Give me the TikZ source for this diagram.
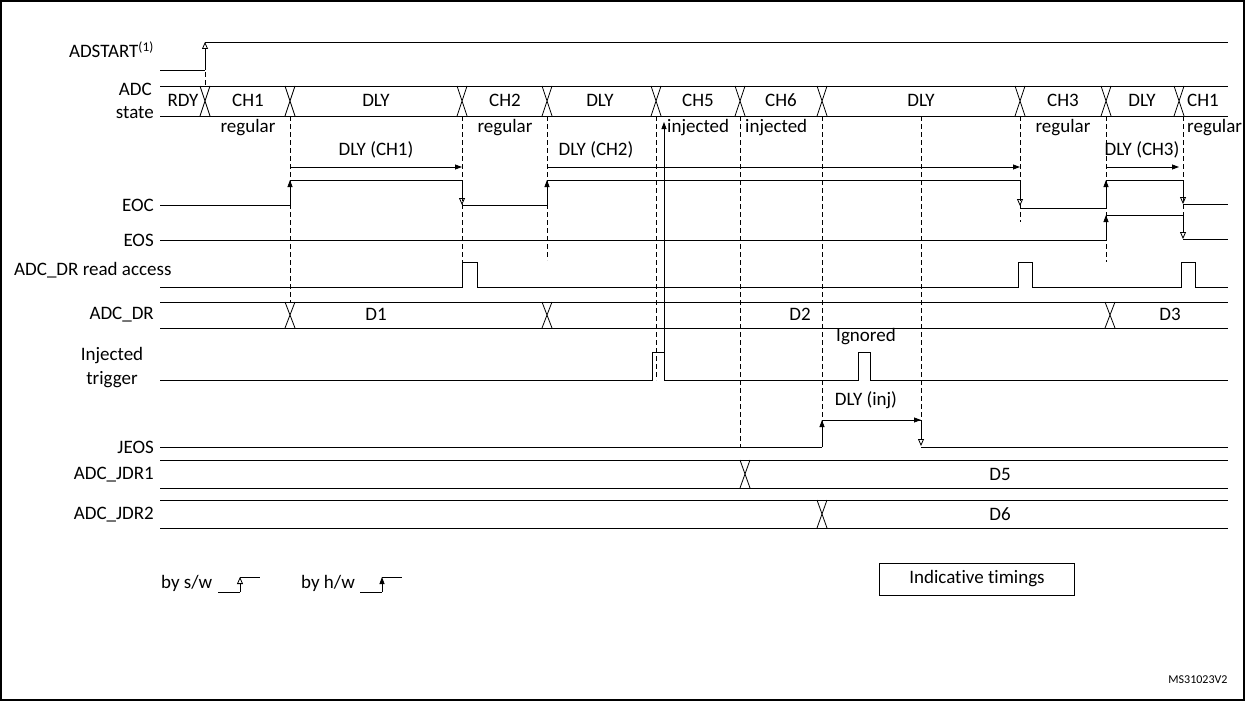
\documentclass[tikz,border=0pt]{standalone}
\usepackage{fontspec}
\setmainfont{Carlito}[Ligatures={NoCommon,NoRare,NoContextual}]
\usetikzlibrary{arrows.meta}
\tikzset{
  sig/.style={line width=0.8pt},
  guide/.style={dashed, line width=0.7pt, dash pattern=on 5pt off 3pt},
  swedge/.style={-{Triangle[open,length=7pt,width=6pt]}},
  hwedge/.style={-{Triangle[length=7pt,width=5pt]}},
  lbl/.style={anchor=east, font=\fontsize{19}{21}\selectfont, inner sep=1pt},
  txt/.style={font=\fontsize{19}{21}\selectfont, inner sep=1pt}
}
% bus: top, bottom, start, end, transitions
\newcommand{\drawbus}[5]{%
  \draw[sig] (#3,#1) -- (#4,#1) (#3,#2) -- (#4,#2);
  \foreach \t in {#5} {
    \fill[white] (\t-5,#1+0.5) rectangle (\t+5,#2-0.5);
    \draw[sig] (\t-5,#1) -- (\t+5,#2) (\t-5,#2) -- (\t+5,#1);
  }
}
\begin{document}
\begin{tikzpicture}[x=1pt,y=-1pt]
    \useasboundingbox (0,0) rectangle (1245,701);
    \draw[line width=1.2pt] (1,1) rectangle (1244,700);

    % Signal names
    \node[lbl] (nstart) at (155,50) {ADSTART\textsuperscript{(1)}};
    \node[lbl] (nadc) at (153,89) {ADC};
    \node[lbl] (nstate) at (155,113) {state};
    \node[lbl] (neoc) at (155,205) {EOC};
    \node[lbl] (neos) at (155,240) {EOS};
    \node[lbl, anchor=west] (nread) at (13,270) {ADC\_DR read access};
    \node[lbl] (ndr) at (155,315) {ADC\_DR};
    \node[txt] (ninj) at (112,356) {Injected};
    \node[txt] (ntrig) at (112,380) {trigger};
    \node[lbl] (njeos) at (155,447) {JEOS};
    \node[lbl] (njdr1) at (155,475) {ADC\_JDR1};
    \node[lbl] (njdr2) at (155,515) {ADC\_JDR2};

    % Dashed guides
    \foreach \x/\a/\b in {205/48/86, 290/116/302, 462/116/262, 547/116/260,
        656/116/380, 740/116/447, 822/116/447, 921/116/420,
        1020/116/222, 1106/116/262, 1183/116/232} {
        \draw[guide] (\x,\a) -- (\x,\b);
    }

    % ADSTART
    \draw[sig] (160,70) -- (205,70);
    \draw[sig, swedge] (205,70) -- (205,42);
    \draw[sig] (205,42) -- (1228,42);

    % ADC state
    \drawbus{86}{116}{160}{1228}{205,290,462,547,656,740,822,1020,1106,1179}
    \foreach \x/\s in {183/RDY, 248/CH1, 376/DLY, 505/CH2, 600/DLY, 698/CH5,
        781/CH6, 921/DLY, 1063/CH3, 1142/DLY, 1203/CH1} {
        \node[txt] at (\x,100) {\s};
    }
    \foreach \x/\s in {248/regular, 505/regular, 1063/regular} {
        \node[txt] at (\x,128) {\s};
    }
    \node[txt, anchor=west] at (666,128) {injected};
    \node[txt, anchor=west] at (744,128) {injected};
    \node[txt, anchor=west] at (1186,128) {regular};

    % Delay arrows
    \draw[sig, hwedge] (290,167) -- (462,167);
    \node[txt] at (376,150) {DLY (CH1)};
    \draw[sig, hwedge] (547,167) -- (1020,167);
    \node[txt] at (596,150) {DLY (CH2)};
    \draw[sig, hwedge] (1106,167) -- (1179,167);
    \node[txt] at (1142,150) {DLY (CH3)};
    \draw[sig, hwedge] (822,420) -- (921,420);
    \node[txt] at (866,400) {DLY (inj)};

    % EOC
    \draw[sig] (160,205) -- (290,205);
    \draw[sig, hwedge] (290,205) -- (290,180);
    \draw[sig] (290,180) -- (462,180);
    \draw[sig, swedge] (462,180) -- (462,205);
    \draw[sig] (462,205) -- (547,205);
    \draw[sig, hwedge] (547,205) -- (547,180);
    \draw[sig] (547,180) -- (1020,180);
    \draw[sig, swedge] (1020,180) -- (1020,206);
    \draw[sig] (1020,208) -- (1106,208);
    \draw[sig, hwedge] (1106,208) -- (1106,180);
    \draw[sig] (1106,180) -- (1183,180);
    \draw[sig, swedge] (1183,180) -- (1183,204);
    \draw[sig] (1183,204) -- (1228,204);

    % EOS
    \draw[sig] (160,240) -- (1106,240);
    \draw[sig, hwedge] (1106,240) -- (1106,215);
    \draw[sig] (1106,215) -- (1183,215);
    \draw[sig, swedge] (1183,215) -- (1183,239);
    \draw[sig] (1183,239) -- (1228,239);

    % ADC_DR read access
    \draw[sig] (160,287) -- (462,287) -- (462,262) -- (477,262) -- (477,287)
        -- (1018,287) -- (1018,262) -- (1032,262) -- (1032,287)
        -- (1181,287) -- (1181,262) -- (1195,262) -- (1195,287) -- (1228,287);

    % ADC_DR
    \drawbus{302}{328}{160}{1228}{290,547,1110}
    \node[txt] at (376,314) {D1};
    \node[txt] at (800,314) {D2};
    \node[txt] at (1170,314) {D3};

    % Injected trigger
    \draw[sig] (160,380) -- (652,380) -- (652,352) -- (664,352) -- (664,380)
        -- (858,380) -- (858,352) -- (870,352) -- (870,380) -- (1228,380);
    \draw[sig, hwedge] (664,352) -- (664,122);
    \node[txt] at (866,337) {Ignored};

    % JEOS
    \draw[sig] (160,447) -- (822,447);
    \draw[sig, hwedge] (822,447) -- (822,420);
    \draw[sig] (822,420) -- (921,420);
    \draw[sig, swedge] (921,420) -- (921,446);
    \draw[sig] (921,447) -- (1228,447);

    % Injected data registers
    \drawbus{460}{488}{160}{1228}{745}
    \node[txt] at (1000,474) {D5};
    \drawbus{500}{528}{160}{1228}{822}
    \node[txt] at (1000,514) {D6};

    % Legend
    \node[txt, anchor=west] (nsw) at (160,583) {by s/w};
    \draw[sig] (218,592) -- (240,592);
    \draw[sig, swedge] (240,592) -- (240,577);
    \draw[sig] (240,577) -- (260,577);
    \node[txt, anchor=west] (nhw) at (300,583) {by h/w};
    \draw[sig] (360,592) -- (382,592);
    \draw[sig, hwedge] (382,592) -- (382,577);
    \draw[sig] (382,577) -- (402,577);
    \node[txt, draw, line width=0.8pt, minimum width=195pt, minimum height=32pt] (ntim) at (977,579) {Indicative timings};
    \node[font=\fontsize{12}{14}\selectfont] (nid) at (1198,680) {MS31023V2};
\end{tikzpicture}
\end{document}
